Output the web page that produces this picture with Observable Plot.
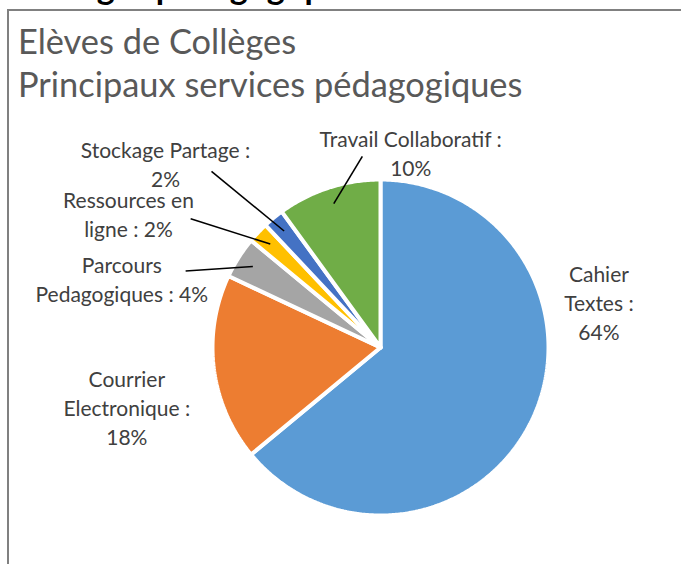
<!DOCTYPE html>
<html><head><meta charset="utf-8">
<script src="https://cdn.jsdelivr.net/npm/d3@7"></script>
<script src="https://cdn.jsdelivr.net/npm/@observablehq/plot@0.6"></script>
<style>
body{margin:0;background:#fff;}
#wrap{position:relative;width:681px;height:564px;overflow:hidden;font-family:Lato,sans-serif;}
#chart{position:absolute;left:0;top:0;}
#top{position:absolute;left:4px;top:-31px;font:bold 34px/1 Lato,sans-serif;color:#000;white-space:nowrap;}
#frame{position:absolute;left:7px;top:9px;width:720px;height:620px;border:2px solid #808080;box-sizing:border-box;}
.t{position:absolute;left:18px;font:34.4px/1 Lato,sans-serif;color:#595959;white-space:nowrap;}
</style></head>
<body>
<div id="wrap">
  <div id="chart"></div>
  <div id="top">3. Usages pédagogiques des élèves</div>
  <div id="frame"></div>
  <div class="t" style="top:24px">Elèves de Collèges</div>
  <div class="t" style="top:67px">Principaux services pédagogiques</div>
</div>
<script>
// ---- data ----
const categories = ["Cahier Textes", "Courrier Electronique", "Parcours Pedagogiques", "Ressources en ligne", "Stockage Partage", "Travail Collaboratif"];
const values = [64, 18, 4, 2, 2, 10];
const labels = ["Cahier\nTextes :\n64%", "Courrier\nElectronique :\n18%", "Parcours\nPedagogiques : 4%", "Ressources en\nligne : 2%", "Stockage Partage :\n2%", "Travail Collaboratif :\n10%"];
const colors = ["#5B9BD5", "#ED7D31", "#A5A5A5", "#FFC000", "#4472C4", "#70AD47"];

// ---- layout (in units of pie radius, relative to the pie centre) ----
const labelPos = [[1.30, 0.27], [-1.51, -0.35], [-1.54, 0.41], [-1.50, 0.80], [-1.28, 1.095], [0.18, 1.16]];
const leaderStart = [null, null, [-1.16, 0.455], [-1.13, 0.766], [-1.006, 1.048], [-0.108, 1.138]];

const W = 681, H = 564, CX = 380, CY = 347, R = 168;

const total = d3.sum(values);
let acc = 0;
const slices = values.map((v, i) => {
  const a0 = acc / total * 2 * Math.PI; acc += v;
  const a1 = acc / total * 2 * Math.PI;
  return {name: categories[i], a0, a1, mid: (a0 + a1) / 2, i};
});

const pts = [];
for (const s of slices) {
  pts.push({name: s.name, x: 0, y: 0});
  const n = Math.max(4, Math.ceil((s.a1 - s.a0) / 0.01));
  for (let k = 0; k <= n; k++) {
    const a = s.a0 + (s.a1 - s.a0) * k / n;
    pts.push({name: s.name, x: Math.sin(a), y: Math.cos(a)});
  }
  pts.push({name: s.name, x: 0, y: 0});
}

const labelData = slices.map(s => ({text: labels[s.i], x: labelPos[s.i][0], y: labelPos[s.i][1]}));
const leaders = slices.filter(s => leaderStart[s.i]).map(s => ({
  x1: leaderStart[s.i][0], y1: leaderStart[s.i][1],
  x2: 0.9 * Math.sin(s.mid), y2: 0.9 * Math.cos(s.mid)
}));

const chart = Plot.plot({
  width: W, height: H,
  marginTop: 0, marginRight: 0, marginBottom: 0, marginLeft: 0,
  style: {background: "transparent"},
  x: {domain: [-CX / R, (W - CX) / R], range: [0, W], axis: null},
  y: {domain: [-(H - CY) / R, CY / R], range: [H, 0], axis: null},
  color: {domain: categories, range: colors},
  marks: [
    Plot.line(pts, {x: "x", y: "y", z: "name", fill: "name", stroke: "white", strokeWidth: 4, strokeLinejoin: "miter"}),
    Plot.link(leaders, {x1: "x1", y1: "y1", x2: "x2", y2: "y2", stroke: "black", strokeWidth: 1.6}),
    Plot.text(labelData, {x: "x", y: "y", text: "text", fill: "#404040", fontSize: 21, fontFamily: "Lato, sans-serif", lineHeight: 1.38, lineAnchor: "middle", textAnchor: "middle"})
  ]
});
document.getElementById("chart").appendChild(chart);
</script>
</body></html>
